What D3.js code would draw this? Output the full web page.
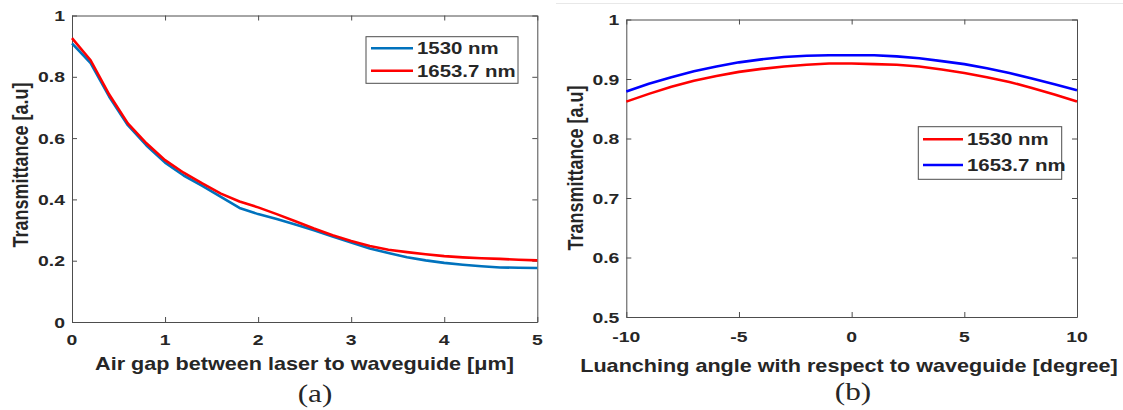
<!DOCTYPE html>
<html lang="en">
<head>
<meta charset="utf-8">
<title>Transmittance plots</title>
<script src="https://cdnjs.cloudflare.com/ajax/libs/d3/7.8.5/d3.min.js"></script>
<style>
    body { margin: 0; background: #fff; }
    svg { display: block; }
    .axis path, .axis line { stroke: #4d4d4d; stroke-width: 1; }
    .lbl { font-family: "Liberation Sans", Arial, sans-serif; font-weight: bold; fill: #262626; }
    .cap { font-family: "Liberation Serif", "Times New Roman", serif; fill: #262626; }
</style>
</head>
<body>
<svg id="fig" width="1123" height="410"></svg>
<script>
// ---- data ----
// (a) air gap sweep
var gapX    = [0, 0.2, 0.4, 0.6, 0.8, 1.0, 1.2, 1.4, 1.6, 1.8, 2.0, 2.2, 2.4, 2.6, 2.8, 3.0, 3.2, 3.4, 3.6, 3.8, 4.0, 4.2, 4.4, 4.6, 4.8, 5.0];
var gap1530 = [0.909, 0.845, 0.735, 0.642, 0.576, 0.520, 0.478, 0.444, 0.408, 0.372, 0.352, 0.336, 0.318, 0.299, 0.279, 0.259, 0.240, 0.225, 0.211, 0.201, 0.193, 0.187, 0.182, 0.178, 0.177, 0.176];
var gap1653 = [0.926, 0.854, 0.742, 0.648, 0.583, 0.528, 0.487, 0.452, 0.419, 0.393, 0.374, 0.352, 0.329, 0.305, 0.283, 0.264, 0.248, 0.236, 0.228, 0.221, 0.215, 0.211, 0.208, 0.206, 0.203, 0.201];
// (b) launching angle sweep
var angX    = [-10, -9, -8, -7, -6, -5, -4, -3, -2, -1, 0, 1, 2, 3, 4, 5, 6, 7, 8, 9, 10];
var ang1530 = [0.862, 0.875, 0.887, 0.897, 0.905, 0.912, 0.917, 0.921, 0.924, 0.926, 0.926, 0.925, 0.924, 0.921, 0.916, 0.910, 0.903, 0.895, 0.885, 0.874, 0.862];
var ang1653 = [0.879, 0.892, 0.903, 0.913, 0.921, 0.928, 0.933, 0.937, 0.939, 0.940, 0.940, 0.940, 0.938, 0.935, 0.930, 0.925, 0.918, 0.910, 0.901, 0.891, 0.881];

var gapTicksX = [0, 1, 2, 3, 4, 5];
var gapTicksY = [0, 0.2, 0.4, 0.6, 0.8, 1];
var angTicksX = [-10, -5, 0, 5, 10];
var angTicksY = [0.5, 0.6, 0.7, 0.8, 0.9, 1];

var SX = 1.2; // the source figure is stretched sideways
var svg = d3.select("#fig");

// faint border of the right image
svg.append("line").attr("x1", 556).attr("x2", 1123).attr("y1", 3.5).attr("y2", 3.5)
    .attr("stroke", "#e8e8e8");

function stretchedText(g, x, y, txt, size, cls, anchor, rot, sx) {
    var tr = "translate(" + x + "," + y + ") scale(" + (sx || SX) + ",1)" + (rot ? " rotate(-90)" : "");
    return g.append("text").attr("class", cls).attr("transform", tr)
        .attr("text-anchor", anchor || "middle")
        .style("font-size", size + "px").text(txt);
}

function panel(cfg) {
    var x = d3.scaleLinear().domain(cfg.xDom).range([cfg.left, cfg.right]);
    var y = d3.scaleLinear().domain(cfg.yDom).range([cfg.bottom, cfg.top]);
    var g = svg.append("g");

    // inward ticks on all four sides
    g.append("g").attr("class", "axis").attr("transform", "translate(0," + cfg.bottom + ")")
        .call(d3.axisBottom(x).tickValues(cfg.xTicks).tickSize(-5).tickSizeOuter(0).tickFormat(""));
    g.append("g").attr("class", "axis").attr("transform", "translate(0," + cfg.top + ")")
        .call(d3.axisTop(x).tickValues(cfg.xTicks).tickSize(-5).tickSizeOuter(0).tickFormat(""));
    g.append("g").attr("class", "axis").attr("transform", "translate(" + cfg.left + ",0)")
        .call(d3.axisLeft(y).tickValues(cfg.yTicks).tickSize(-5).tickSizeOuter(0).tickFormat(""));
    g.append("g").attr("class", "axis").attr("transform", "translate(" + cfg.right + ",0)")
        .call(d3.axisRight(y).tickValues(cfg.yTicks).tickSize(-5).tickSizeOuter(0).tickFormat(""));

    // tick labels (plain hyphen minus, like the source)
    cfg.xTicks.forEach(function (t) {
        stretchedText(g, x(t), cfg.xLabY, String(t), 15.5, "lbl", "middle", false, 1.25);
    });
    cfg.yTicks.forEach(function (t) {
        stretchedText(g, cfg.left - 7, y(t) + 5.5, String(t), 15.5, "lbl", "end", false, 1.25);
    });

    // axis titles
    stretchedText(g, cfg.xTitleX, cfg.xTitleY, cfg.xTitle, 18, "lbl");
    stretchedText(g, cfg.yTitleX, cfg.yTitleY, "Transmittance [a.u]", 18, "lbl", "middle", true);
    stretchedText(g, cfg.capX, cfg.capY, cfg.cap, 26, "cap");

    // curves
    var line = d3.line().x(function (d) { return x(d[0]); }).y(function (d) { return y(d[1]); });
    cfg.series.forEach(function (s) {
        var pts = cfg.xs.map(function (v, i) { return [v, s.values[i]]; });
        g.append("path").datum(pts).attr("d", line).attr("fill", "none")
            .attr("stroke", s.color).attr("stroke-width", 2.6).attr("stroke-linejoin", "round");
    });

    // legend
    var L = cfg.legend;
    g.append("rect").attr("x", L.x0).attr("y", L.y0).attr("width", L.x1 - L.x0).attr("height", L.y1 - L.y0)
        .attr("fill", "#fff").attr("stroke", "#4d4d4d").attr("stroke-width", 1);
    cfg.series.forEach(function (s, i) {
        var ry = L.rows[i];
        g.append("line").attr("x1", L.lx0).attr("x2", L.lx1).attr("y1", ry).attr("y2", ry)
            .attr("stroke", s.color).attr("stroke-width", 2.6);
        stretchedText(g, L.tx, ry + L.size * 0.36, s.name, L.size, "lbl", "start");
    });
}

panel({
    xDom: [0, 5], yDom: [0, 1], left: 72, right: 537.3, top: 15.5, bottom: 322,
    xTicks: gapTicksX, yTicks: gapTicksY, xs: gapX,
    xLabY: 345, xTitle: "Air gap between laser to waveguide [\u03bcm]", xTitleX: 304.5, xTitleY: 370,
    yTitleX: 28, yTitleY: 165, cap: "(a)", capX: 315, capY: 402,
    series: [
        { name: "1530 nm", color: "#0072BD", values: gap1530 },
        { name: "1653.7 nm", color: "#FF0000", values: gap1653 }
    ],
    legend: { x0: 366, x1: 518, y0: 36.7, y1: 83.3, lx0: 371, lx1: 413, tx: 417, rows: [48.3, 70.7], size: 17 }
});

panel({
    xDom: [-10, 10], yDom: [0.5, 1], left: 626.3, right: 1077, top: 19.5, bottom: 317,
    xTicks: angTicksX, yTicks: angTicksY, xs: angX,
    xLabY: 342, xTitle: "Luanching angle with respect to waveguide [degree]", xTitleX: 849, xTitleY: 372,
    yTitleX: 583, yTitleY: 168, cap: "(b)", capX: 853, capY: 400,
    series: [
        { name: "1530 nm", color: "#FF0000", values: ang1530 },
        { name: "1653.7 nm", color: "#0000FF", values: ang1653 }
    ],
    legend: { x0: 918.3, x1: 1061.7, y0: 126.7, y1: 179.3, lx0: 923, lx1: 963, tx: 967, rows: [139.3, 165], size: 17 }
});
</script>
</body>
</html>
